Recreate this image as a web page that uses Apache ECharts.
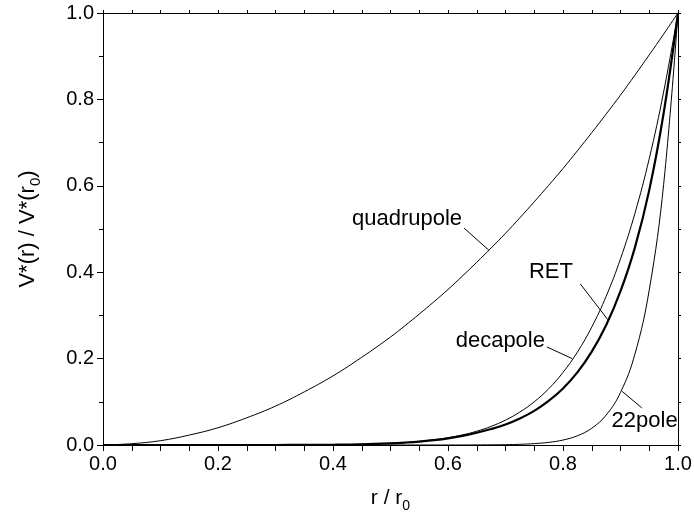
<!DOCTYPE html>
<html>
<head>
<meta charset="utf-8">
<script src="https://cdn.jsdelivr.net/npm/echarts@6/dist/echarts.min.js"></script>
<style>
  html, body { margin: 0; padding: 0; background: #fff; }
  #chart { width: 694px; height: 527px; }
</style>
</head>
<body>
<div id="chart"></div>
<script>
// Normalised effective potential V*(r)/V*(r0) versus r/r0 for several trap geometries
const radius = [0, 0.05, 0.1, 0.15, 0.2, 0.25, 0.3, 0.35, 0.4, 0.45, 0.5, 0.525, 0.55, 0.575, 0.6, 0.625, 0.65, 0.675, 0.7, 0.725, 0.75, 0.775, 0.8, 0.825, 0.85, 0.875, 0.9, 0.925, 0.95, 0.975, 1.0];
const quadrupole = [0, 0.003, 0.010, 0.023, 0.040, 0.063, 0.090, 0.123, 0.160, 0.203, 0.250, 0.276, 0.303, 0.331, 0.360, 0.391, 0.423, 0.456, 0.490, 0.526, 0.563, 0.601, 0.640, 0.681, 0.723, 0.766, 0.810, 0.856, 0.903, 0.951, 1.0];
const decapole = [0, 0, 0, 0, 0, 0.00002, 0.00007, 0.0002, 0.0007, 0.0017, 0.0039, 0.0058, 0.0084, 0.0120, 0.0168, 0.0233, 0.0319, 0.0431, 0.0576, 0.0763, 0.100, 0.130, 0.168, 0.215, 0.273, 0.344, 0.431, 0.536, 0.663, 0.817, 1.0];
const ret = [0, 0, 0, 0, 0, 0.00001, 0.00005, 0.0002, 0.0006, 0.0016, 0.0038, 0.0055, 0.0078, 0.0112, 0.0155, 0.0212, 0.0284, 0.037, 0.0475, 0.0615, 0.079, 0.102, 0.131, 0.168, 0.216, 0.277, 0.356, 0.457, 0.590, 0.768, 1.0];
const pole22 = [0, 0, 0, 0, 0, 0, 0, 0, 0, 0, 0, 0, 0.00001, 0.00002, 0.00004, 0.00008, 0.0002, 0.0004, 0.0008, 0.0016, 0.0032, 0.0061, 0.0115, 0.0213, 0.0388, 0.0692, 0.1216, 0.210, 0.359, 0.603, 1.0];

const xTicks = [0.0, 0.2, 0.4, 0.6, 0.8, 1.0];
const yTicks = [0.0, 0.2, 0.4, 0.6, 0.8, 1.0];

// Curve annotations: text anchor and leader line, in data coordinates
const annotations = [
  { text: 'quadrupole', at: [0.433, 0.523], align: 'left',   from: [0.628, 0.502], to: [0.671, 0.451] },
  { text: 'RET',        at: [0.779, 0.400], align: 'center', from: [0.830, 0.373], to: [0.878, 0.290] },
  { text: 'decapole',   at: [0.691, 0.241], align: 'center', from: [0.772, 0.227], to: [0.816, 0.200] },
  { text: '22pole',     at: [0.942, 0.056], align: 'center', from: [0.937, 0.086], to: [0.903, 0.124] }
];

const FONT = '"Liberation Sans", Arial, Helvetica, sans-serif';
const BLACK = '#000';

function pairs(ys) { return radius.map((x, i) => [x, ys[i]]); }

const chart = echarts.init(document.getElementById('chart'), null, { renderer: 'canvas' });

const fmt = v => {
  const hit = xTicks.concat(yTicks).find(t => Math.abs(t - v) < 1e-9);
  return hit === undefined ? '' : hit.toFixed(1);
};

const baseAxis = {
  type: 'value', min: 0, max: 1, interval: 0.2,
  axisLine: { show: true, onZero: false, lineStyle: { color: BLACK, width: 1 } },
  splitLine: { show: false },
  minorSplitLine: { show: false }
};

function lineSeries(name, ys, width) {
  return {
    name, type: 'line', data: pairs(ys),
    showSymbol: false, symbol: 'none',
    smooth: 0.4,
    clip: true,
    lineStyle: { color: BLACK, width },
    emphasis: { disabled: true },
    z: width > 1.5 ? 3 : 2
  };
}

chart.setOption({
  animation: false,
  backgroundColor: '#fff',
  grid: { left: 103, right: 16, top: 13, bottom: 82, containLabel: false, outerBoundsMode: 'none' },
  xAxis: [
    Object.assign({}, baseAxis, {
      position: 'bottom',
      axisTick: { show: true, inside: false, length: 6, lineStyle: { color: BLACK } },
      minorTick: { show: true, splitNumber: 4, length: 6, lineStyle: { color: BLACK } },
      axisLabel: { show: true, color: BLACK, fontSize: 20, fontFamily: FONT, margin: 9, formatter: fmt }
    }),
    Object.assign({}, baseAxis, {
      position: 'top',
      axisTick: { show: true, inside: false, length: 3, lineStyle: { color: BLACK } },
      minorTick: { show: true, splitNumber: 4, length: 3, lineStyle: { color: BLACK } },
      axisLabel: { show: false }
    })
  ],
  yAxis: [
    Object.assign({}, baseAxis, {
      position: 'left',
      axisTick: { show: true, inside: false, length: 6, lineStyle: { color: BLACK } },
      minorTick: { show: true, splitNumber: 2, length: 4, lineStyle: { color: BLACK } },
      axisLabel: { show: true, color: BLACK, fontSize: 20, fontFamily: FONT, margin: 9, formatter: fmt }
    }),
    Object.assign({}, baseAxis, {
      position: 'right',
      axisTick: { show: true, inside: false, length: 3, lineStyle: { color: BLACK } },
      minorTick: { show: true, splitNumber: 2, length: 3, lineStyle: { color: BLACK } },
      axisLabel: { show: false }
    })
  ],
  series: [
    lineSeries('quadrupole', quadrupole, 1),
    lineSeries('decapole', decapole, 1),
    lineSeries('22pole', pole22, 1),
    lineSeries('RET', ret, 2.2)
  ]
});

// Measure text to lay out titles with subscripts
const mctx = document.createElement('canvas').getContext('2d');
function textWidth(s, size) {
  mctx.font = size + 'px ' + FONT;
  return mctx.measureText(s).width;
}

function titleWithSub(main, sub, size, subSize, subDrop) {
  const w1 = textWidth(main, size);
  const w2 = textWidth(sub[0], subSize);
  const w3 = textWidth(sub[1], size);
  const total = w1 + w2 + w3;
  const x0 = -total / 2;
  const style = (t, s, x, y) => ({
    type: 'text', x, y,
    style: { text: t, fill: BLACK, font: s + 'px ' + FONT, textAlign: 'left', textVerticalAlign: 'middle' }
  });
  return [
    style(main, size, x0, 0),
    style(sub[0], subSize, x0 + w1, subDrop),
    style(sub[1], size, x0 + w1 + w2, 0)
  ];
}

const px = p => chart.convertToPixel({ xAxisIndex: 0, yAxisIndex: 0 }, p);
const graphics = [];

annotations.forEach(a => {
  const p = px(a.at);
  graphics.push({
    type: 'text', x: p[0], y: p[1], silent: true,
    style: { text: a.text, fill: BLACK, font: '22px ' + FONT, textAlign: a.align, textVerticalAlign: 'middle' }
  });
  const f = px(a.from), t = px(a.to);
  graphics.push({
    type: 'line', silent: true,
    shape: { x1: f[0], y1: f[1], x2: t[0], y2: t[1] },
    style: { stroke: BLACK, lineWidth: 1 }
  });
});

// Axis titles
const grid = chart.getModel().getComponent('grid').coordinateSystem.getRect();
graphics.push({
  type: 'group', x: grid.x + grid.width / 2, y: 498, silent: true,
  children: titleWithSub('r / r', ['0', ''], 21, 14, 8)
});
graphics.push({
  type: 'group', x: 28, y: grid.y + grid.height / 2, rotation: Math.PI / 2, silent: true,
  children: titleWithSub('V*(r) / V*(r', ['0', ')'], 22, 15, 8)
});

chart.setOption({ graphic: graphics });
</script>
</body>
</html>
